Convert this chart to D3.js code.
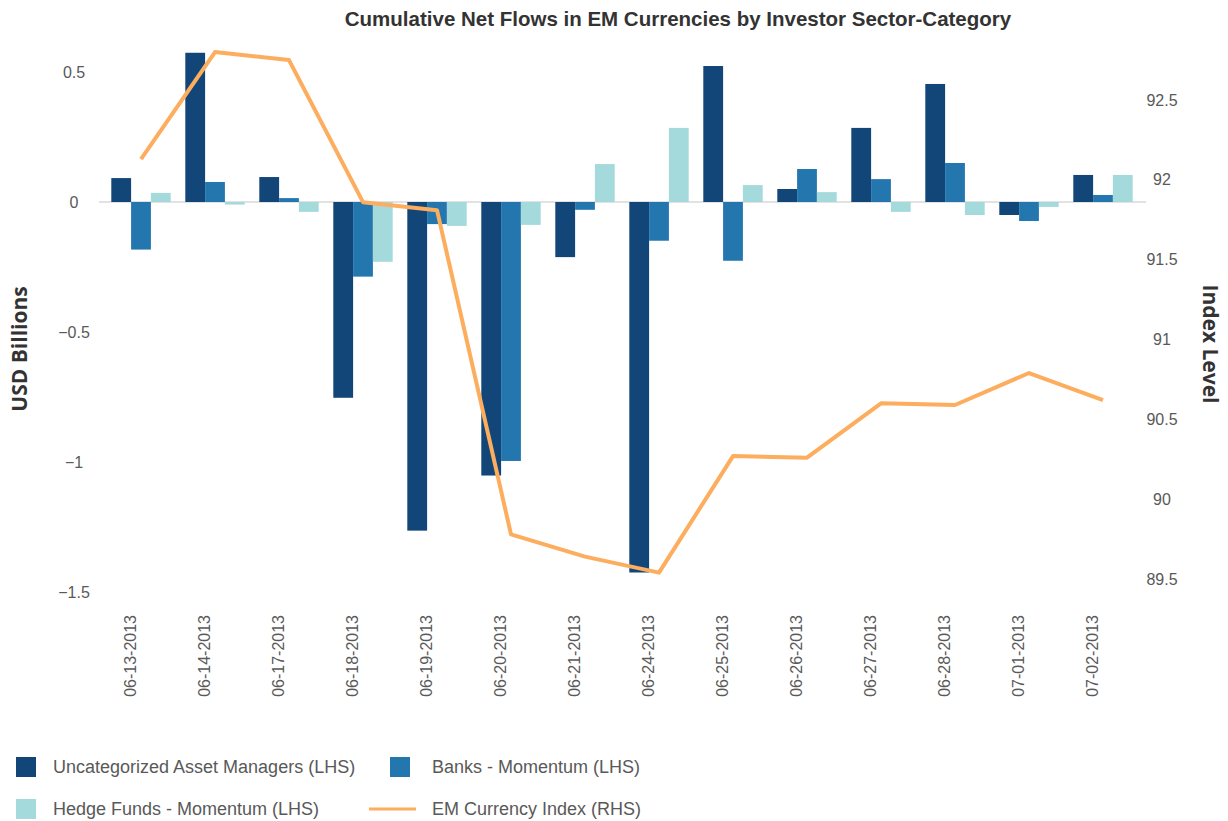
<!DOCTYPE html>
<html>
<head>
<meta charset="utf-8">
<script src="https://cdn.jsdelivr.net/npm/d3@7"></script>
<style>
    body { margin: 0; background: #fff; }
    .tick-label { font-family: "Liberation Sans", Arial, sans-serif; font-size: 16px; fill: #595959; }
    .legend-label { font-family: "Liberation Sans", Arial, sans-serif; font-size: 18px; fill: #595959; }
    .axis-title { font-family: "Open Sans", sans-serif; font-size: 21px; font-weight: 700; fill: #333; }
</style>
</head>
<body>
<div id="chart"></div>
<script>
// Data
const dates = ["06-13-2013", "06-14-2013", "06-17-2013", "06-18-2013", "06-19-2013", "06-20-2013", "06-21-2013",
    "06-24-2013", "06-25-2013", "06-26-2013", "06-27-2013", "06-28-2013", "07-01-2013", "07-02-2013"];
const assetManagers = [0.092, 0.574, 0.096, -0.753, -1.264, -1.052, -0.212, -1.425, 0.523, 0.05, 0.285, 0.454, -0.05, 0.104];
const banks = [-0.183, 0.077, 0.015, -0.287, -0.085, -0.996, -0.03, -0.149, -0.226, 0.127, 0.088, 0.15, -0.073, 0.027];
const hedgeFunds = [0.035, -0.01, -0.038, -0.23, -0.092, -0.088, 0.146, 0.285, 0.065, 0.038, -0.038, -0.05, -0.019, 0.104];
const emIndex = [92.13, 92.80, 92.75, 91.86, 91.81, 89.78, 89.64, 89.54, 90.27, 90.26, 90.60, 90.59, 90.79, 90.62];

const seriesNames = ["Uncategorized Asset Managers (LHS)", "Banks - Momentum (LHS)", "Hedge Funds - Momentum (LHS)"];
const lineName = "EM Currency Index (RHS)";
const leftTicks = [-1.5, -1, -0.5, 0, 0.5];
const rightTicks = [89.5, 90, 90.5, 91, 91.5, 92, 92.5];

const colors = ["#134678", "#2476ae", "#a4dadb"];
const lineColor = "#fdad5e";

const width = 1228, height = 821;

const svg = d3.select("#chart").append("svg")
    .attr("width", width)
    .attr("height", height);

// Scales
const x0 = d3.scaleBand().domain(dates).range([104, 1140]).padding(0);
const x1 = d3.scaleBand().domain(seriesNames).range([7.3, x0.bandwidth() - 7.3]).padding(0);
const yL = d3.scaleLinear().domain([-1.5, 0.5]).range([592, 72]);
const yR = d3.scaleLinear().domain([89.5, 92.5]).range([579, 100]);
const fmt = d3.format("~g");

// Title
svg.append("text")
    .attr("x", 678)
    .attr("y", 26)
    .attr("text-anchor", "middle")
    .attr("font-family", "'Liberation Sans Narrow', 'Liberation Sans', sans-serif")
    .attr("font-size", 20.5)
    .attr("font-weight", 700)
    .attr("fill", "#333")
    .text("Cumulative Net Flows in EM Currencies by Investor Sector-Category");

// Left axis labels
const leftAxis = svg.append("g")
    .attr("transform", "translate(82,0)")
    .call(d3.axisLeft(yL).tickValues(leftTicks).tickFormat(fmt).tickSize(0).tickPadding(0));
leftAxis.select(".domain").remove();
leftAxis.selectAll("text")
    .attr("class", "tick-label")
    .attr("font-family", null).attr("font-size", null)
    .attr("text-anchor", "middle")
    .attr("x", -8);

// Right axis labels
const rightAxis = svg.append("g")
    .attr("transform", "translate(1162,0)")
    .call(d3.axisRight(yR).tickValues(rightTicks).tickFormat(fmt).tickSize(0).tickPadding(0));
rightAxis.select(".domain").remove();
rightAxis.selectAll("text")
    .attr("class", "tick-label")
    .attr("font-family", null).attr("font-size", null)
    .attr("text-anchor", "middle")
    .attr("x", 0);

// Axis titles
svg.append("text")
    .attr("class", "axis-title")
    .attr("transform", "translate(20,349) rotate(-90)")
    .attr("text-anchor", "middle")
    .attr("dy", "0.35em")
    .text("USD Billions");

svg.append("text")
    .attr("class", "axis-title")
    .attr("transform", "translate(1210,344) rotate(90)")
    .attr("text-anchor", "middle")
    .attr("dy", "0.35em")
    .text("Index Level");

// Zero line
svg.append("line")
    .attr("x1", x0.range()[0] - 5)
    .attr("x2", x0.range()[1] + 6)
    .attr("y1", yL(0))
    .attr("y2", yL(0))
    .attr("stroke", "#d9d9d9")
    .attr("stroke-width", 1.5);

// Bars
const barData = dates.map((d, i) => ({
    date: d,
    values: [assetManagers[i], banks[i], hedgeFunds[i]].map((v, j) => ({ key: seriesNames[j], value: v, color: colors[j] }))
}));

svg.append("g")
    .selectAll("g")
    .data(barData)
    .join("g")
    .attr("transform", d => `translate(${x0(d.date)},0)`)
    .selectAll("rect")
    .data(d => d.values)
    .join("rect")
    .attr("x", d => x1(d.key))
    .attr("width", x1.bandwidth())
    .attr("y", d => Math.min(yL(d.value), yL(0)))
    .attr("height", d => Math.abs(yL(d.value) - yL(0)))
    .attr("fill", d => d.color);

// Index line
const line = d3.line()
    .x((d, i) => x0(dates[i]) + x0.bandwidth() / 2)
    .y(d => yR(d));

svg.append("path")
    .datum(emIndex)
    .attr("fill", "none")
    .attr("stroke", lineColor)
    .attr("stroke-width", 4)
    .attr("stroke-linejoin", "round")
    .attr("d", line);

// X labels (rotated)
svg.append("g")
    .selectAll("text")
    .data(dates)
    .join("text")
    .attr("class", "tick-label")
    .attr("transform", d => `translate(${x0(d) + x0.bandwidth() / 2 - 11},615) rotate(-90)`)
    .attr("text-anchor", "end")
    .attr("dy", "0.35em")
    .text(d => d);

// Legend
const legendItems = [
    { name: seriesNames[0], color: colors[0], x: 16, y: 767, type: "rect" },
    { name: seriesNames[1], color: colors[1], x: 390, y: 767, type: "rect" },
    { name: seriesNames[2], color: colors[2], x: 16, y: 809, type: "rect" },
    { name: lineName, color: lineColor, x: 369, y: 809, type: "line" }
];

const legend = svg.append("g")
    .selectAll("g")
    .data(legendItems)
    .join("g")
    .attr("transform", d => `translate(${d.x},${d.y})`);

legend.filter(d => d.type === "rect").append("rect")
    .attr("x", 0).attr("y", -10)
    .attr("width", 20).attr("height", 20)
    .attr("fill", d => d.color);

legend.filter(d => d.type === "line").append("line")
    .attr("x1", 0).attr("x2", 47)
    .attr("y1", 0).attr("y2", 0)
    .attr("stroke", d => d.color)
    .attr("stroke-width", 3);

legend.append("text")
    .attr("class", "legend-label")
    .attr("x", d => d.type === "rect" ? (d.x === 16 ? 37 : 42) : 63)
    .attr("dy", "0.35em")
    .text(d => d.name);
</script>
</body>
</html>
